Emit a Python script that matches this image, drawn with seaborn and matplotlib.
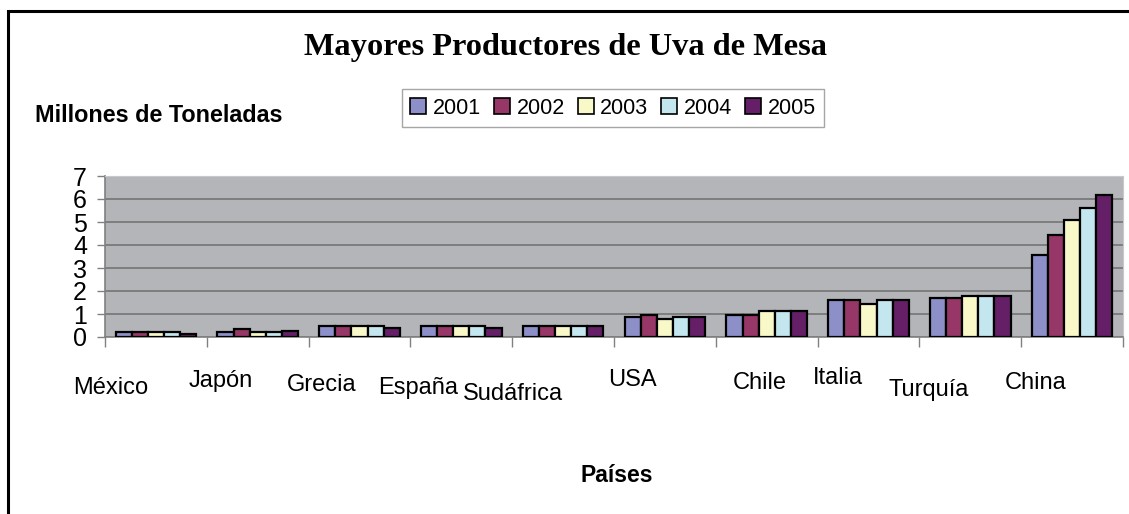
import matplotlib
matplotlib.use("Agg")
import matplotlib.pyplot as plt
from matplotlib.patches import Patch, Rectangle
import numpy as np
import pandas as pd
import seaborn as sns

# ----------------------------------------------------------------------------
# data (millones de toneladas)
# ----------------------------------------------------------------------------
paises = ["México", "Japón", "Grecia", "España", "Sudáfrica",
          "USA", "Chile", "Italia", "Turquía", "China"]
anios = ["2001", "2002", "2003", "2004", "2005"]
v2001 = [0.23, 0.23, 0.50, 0.50, 0.50, 0.87, 0.95, 1.60, 1.70, 3.55]
v2002 = [0.23, 0.33, 0.50, 0.50, 0.50, 0.96, 0.95, 1.60, 1.70, 4.45]
v2003 = [0.23, 0.22, 0.50, 0.50, 0.50, 0.79, 1.12, 1.43, 1.78, 5.08]
v2004 = [0.23, 0.22, 0.50, 0.50, 0.50, 0.86, 1.12, 1.60, 1.78, 5.59]
v2005 = [0.15, 0.25, 0.41, 0.41, 0.50, 0.87, 1.12, 1.60, 1.78, 6.17]

colores = ["#8C8FC8", "#963767", "#F9F8C9", "#C4E6EF", "#651F67"]

# excel-style staggered category labels (pixel offsets from category centre)
label_dx = [-45, -37, -38, -43, -50, -32, -7, -31, -42, -36]
label_dy = [-51, -44, -48, -51, -57, -43, -46, -41, -53, -46]

df = pd.DataFrame({"pais": paises, "2001": v2001, "2002": v2002,
                   "2003": v2003, "2004": v2004, "2005": v2005})
long = df.melt(id_vars="pais", var_name="anio", value_name="valor")

sns.set_style("white")
plt.rcParams["font.family"] = ["Liberation Sans", "DejaVu Sans"]
plt.rcParams["text.color"] = "black"
plt.rcParams["xtick.color"] = "black"
plt.rcParams["ytick.color"] = "black"

fig = plt.figure(figsize=(11.29, 5.14), dpi=100)
ax = fig.add_axes([105 / 1129, 1 - 337 / 514, 1018 / 1129, 161 / 514])

sns.barplot(data=long, x="pais", y="valor", hue="anio", order=paises,
            hue_order=anios, palette=colores, width=0.79, ax=ax,
            edgecolor="black", linewidth=1.6, saturation=1, legend=False,
            zorder=3)

ax.set_facecolor("#B4B5B9")
ax.set_xlim(-0.5, len(paises) - 0.5)
ax.set_ylim(0, 7)
ax.set_yticks(range(0, 8))
ax.yaxis.grid(True, color="#7A7A7A", linewidth=1.3, zorder=0)
ax.set_axisbelow(True)
ax.tick_params(axis="y", left=True, length=6, width=1, color="#808080",
               labelcolor="black", labelsize=18, pad=7)
ax.set_xticks(np.arange(-0.5, len(paises), 1.0))
ax.set_xticklabels([])
ax.tick_params(axis="x", bottom=True, length=7, width=1, color="#808080")
ax.set_xlabel("")
ax.set_ylabel("")
for side in ["top", "right"]:
    ax.spines[side].set_color("#C8C8C8")
for side in ["left", "bottom"]:
    ax.spines[side].set_color("#808080")
    ax.spines[side].set_linewidth(1.2)

for i, nombre in enumerate(paises):
    ax.annotate(nombre, xy=(i, 0), xycoords=("data", "axes fraction"),
                xytext=(label_dx[i], label_dy[i]), textcoords="offset pixels",
                ha="center", va="center", fontsize=17, color="black")

# titles and labels
fig.text(566 / 1129, 1 - 48 / 514, "Mayores Productores de Uva de Mesa",
         family="Liberation Serif", fontweight="bold", fontsize=23.3,
         ha="center", va="center", color="black")
fig.text(35 / 1129, 1 - 115 / 514, "Millones de Toneladas",
         fontweight="bold", fontsize=16.8, ha="left", va="center",
         color="black")
fig.text(617 / 1129, 1 - 475 / 514, "Países",
         fontweight="bold", fontsize=16.5, ha="center", va="center",
         color="black")

handles = [Patch(facecolor=c, edgecolor="black", linewidth=1.2, label=a)
           for c, a in zip(colores, anios)]
leg = fig.legend(handles=handles, loc="center", ncol=5,
                 bbox_to_anchor=(613 / 1129, 1 - 108 / 514),
                 fontsize=15.5, frameon=True, fancybox=False,
                 handlelength=0.75, handleheight=0.75, handletextpad=0.3,
                 columnspacing=0.6, borderpad=0.4, borderaxespad=0)
leg.get_frame().set_edgecolor("#909090")
leg.get_frame().set_linewidth(1.0)
for t in leg.get_texts():
    t.set_color("black")

# outer chart frame
fig.patches.append(Rectangle((8 / 1129, -0.1), 1.2, 1 - 11 / 514 + 0.1,
                             transform=fig.transFigure, fill=False,
                             edgecolor="black", linewidth=2.2))

fig.savefig("out.png", dpi=100)
